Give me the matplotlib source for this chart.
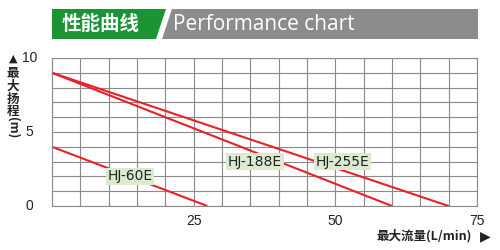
import matplotlib
matplotlib.use("Agg")
import matplotlib.pyplot as plt
from matplotlib.patches import Polygon

plt.rcParams['font.family'] = ['DejaVu Sans', 'Noto Sans CJK SC']

# Data
models = ["HJ-60E", "HJ-188E", "HJ-255E"]
flow_start = [0, 0, 0]
flow_end = [27.4, 60, 70]
head_start = [4, 9, 9]
head_end = [0, 0, 0]
label_x = [13.8, 35.8, 51.2]
label_y = [2.0, 3.0, 3.0]
xticks = [25, 50, 75]
yticks = [0, 5, 10]

W, H = 500, 250
fig = plt.figure(figsize=(5, 2.5), dpi=100)
fig.patch.set_facecolor('white')

def px(x, y):
    return (x / W, 1 - y / H)

# Header
green = Polygon([px(52, 9), px(166, 9), px(156, 39), px(52, 39)], closed=True,
                transform=fig.transFigure, facecolor='#1b9436', edgecolor='none')
gray = Polygon([px(172, 9), px(478, 9), px(478, 39), px(162, 39)], closed=True,
               transform=fig.transFigure, facecolor='#8c8c8c', edgecolor='none')
fig.patches.extend([green, gray])
fig.text(*px(101, 24), "性能曲线", color='white', fontsize=14, fontweight='bold',
         family=['Noto Sans CJK SC'], ha='center', va='center')
fig.text(*px(173, 25), "Performance chart", color='white', fontsize=15,
         family=['Open Sans'], ha='left', va='center')

L, R, T, B = 52, 477, 58, 206
ax = fig.add_axes([L / W, 1 - B / H, (R - L) / W, (B - T) / H])
ax.set_xlim(0, 75)
ax.set_ylim(0, 10)
ax.set_xticks(range(0, 76, 5), minor=False)
ax.set_yticks(range(0, 11, 1))
ax.grid(True, color='#8a8a8a', linewidth=0.8)
ax.set_axisbelow(True)
for s in ax.spines.values():
    s.set_color('#8a8a8a')
    s.set_linewidth(0.8)
ax.tick_params(length=0, labelbottom=False, labelleft=False)

for i, m in enumerate(models):
    ax.plot([flow_start[i], flow_end[i]], [head_start[i], head_end[i]],
            color='#e8202a', linewidth=1.5, solid_capstyle='butt', clip_on=False)
    ax.text(label_x[i], label_y[i], m, fontsize=10, color='#222222',
            ha='center', va='center',
            bbox=dict(boxstyle='square,pad=0.12', facecolor='#dcebd0', edgecolor='none'))

for t in xticks:
    ax.text(t, -1.0, str(t), fontsize=10, color='#222222', ha='center', va='center',
            family=['Liberation Sans'], clip_on=False)
for t in yticks:
    ax.text(-4.0, t, str(t), fontsize=10, color='#222222', ha='center', va='center',
            family=['Liberation Sans'], clip_on=False)

# Y label (vertical writing)
fig.text(*px(13, 59), "▲", fontsize=8, ha='center', va='center', color='#222222')
ychars = "最大扬程"
for k, ch in enumerate(ychars):
    fig.text(*px(13, 73 + k * 13), ch, fontsize=9, fontweight='bold',
             family=['Noto Sans CJK SC'], ha='center', va='center', color='#222222')
fig.text(*px(13, 128), "(m)", fontsize=9, fontweight='bold', rotation=-90,
         family=['Noto Sans CJK SC'], ha='center', va='center', color='#222222')

# X label
fig.text(*px(424, 236), "最大流量(L/min)", fontsize=9, fontweight='bold',
         family=['Noto Sans CJK SC'], ha='center', va='center', color='#222222')
fig.text(*px(485, 236), "▶", fontsize=10, ha='center', va='center', color='#222222')

fig.savefig("out.png", dpi=100)
